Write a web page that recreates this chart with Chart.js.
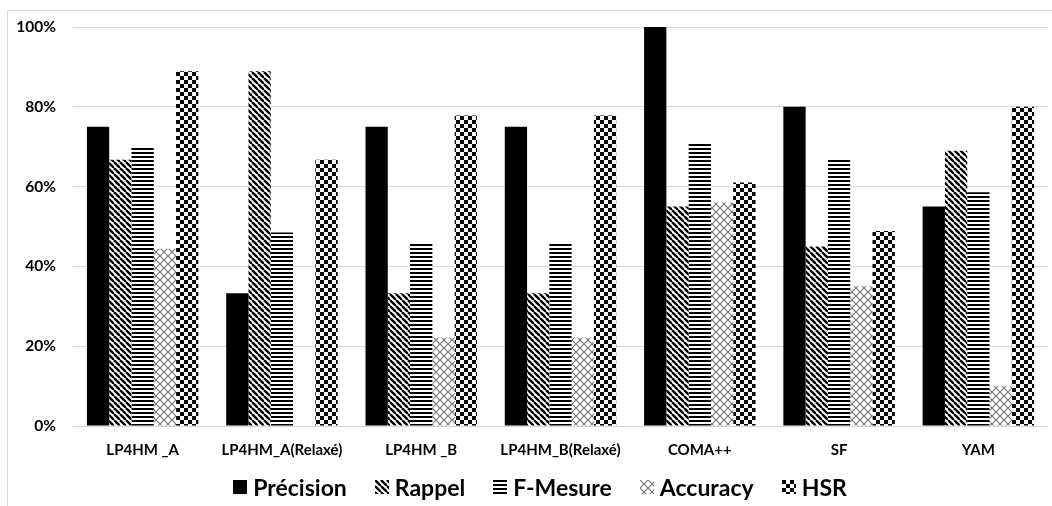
<!DOCTYPE html>
<html>
<head>
<meta charset="utf-8">
<script src="https://cdn.jsdelivr.net/npm/chart.js@4/dist/chart.umd.min.js"></script>
<style>
    html, body { margin: 0; padding: 0; background: #fff; }
    #wrap { position: relative; width: 1052px; height: 506px; overflow: hidden; }
    #legend {
        position: absolute; left: 0; top: 473px; width: 1080px;
        display: flex; justify-content: center; align-items: center;
        font-family: Lato, 'Open Sans', sans-serif; font-weight: bold; font-size: 23px; color: #000;
    }
    #legend .item { display: flex; align-items: center; margin: 0 14px; }
    #legend .box { width: 14px; height: 14px; margin-right: 6px; }
</style>
</head>
<body>
<div id="wrap">
    <canvas id="chart" width="1052" height="506"></canvas>
    <div id="legend"></div>
</div>
<script>
var categories = ['LP4HM _A', 'LP4HM_A(Relaxé)', 'LP4HM _B', 'LP4HM_B(Relaxé)', 'COMA++', 'SF', 'YAM'];
var seriesNames = ['Précision', 'Rappel', 'F-Mesure', 'Accuracy', 'HSR'];
var precision = [75, 33.3, 75, 75, 100, 80, 55];
var rappel = [66.7, 88.9, 33.3, 33.3, 55, 45, 69];
var fMesure = [70, 48.5, 45.7, 45.7, 71, 67, 58.6];
var accuracy = [44.4, 0, 22.2, 22.2, 56, 35, 10];
var hsr = [88.9, 66.7, 77.8, 77.8, 61, 48.9, 80];
var yTicks = [0, 20, 40, 60, 80, 100];

// petits motifs noir et blanc, comme dans Excel
function tile(size, draw) {
    var c = document.createElement('canvas');
    c.width = size;
    c.height = size;
    var g = c.getContext('2d');
    g.fillStyle = '#fff';
    g.fillRect(0, 0, size, size);
    draw(g, size);
    return c;
}

var tiles = [
    tile(4, function (g, s) { g.fillStyle = '#000'; g.fillRect(0, 0, s, s); }),
    tile(6, function (g, s) {
        g.strokeStyle = '#000';
        g.lineWidth = 2.4;
        for (var k = -1; k <= 1; k++) {
            g.beginPath();
            g.moveTo(k * s, 0);
            g.lineTo(k * s + s, s);
            g.stroke();
        }
    }),
    tile(4, function (g, s) { g.fillStyle = '#000'; g.fillRect(0, 0, s, 2); }),
    tile(8, function (g, s) {
        g.strokeStyle = '#7a7a7a';
        g.lineWidth = 1.2;
        g.beginPath();
        g.moveTo(0, 0); g.lineTo(s, s);
        g.moveTo(s, 0); g.lineTo(0, s);
        g.stroke();
    }),
    tile(8, function (g, s) {
        g.fillStyle = '#000';
        g.fillRect(0, 0, 4, 4);
        g.fillRect(4, 4, 4, 4);
    })
];

var ctx = document.getElementById('chart').getContext('2d');
var fills = tiles.map(function (t) { return ctx.createPattern(t, 'repeat'); });
var values = [precision, rappel, fMesure, accuracy, hsr];

var framePlugin = {
    id: 'frame',
    beforeDraw: function (chart) {
        var c = chart.ctx;
        c.save();
        c.strokeStyle = '#d9d9d9';
        c.lineWidth = 1;
        c.beginPath();
        c.moveTo(7.5, 506);
        c.lineTo(7.5, 10.5);
        c.lineTo(1052, 10.5);
        c.stroke();
        c.restore();
    }
};

new Chart(ctx, {
    type: 'bar',
    data: {
        labels: categories,
        datasets: seriesNames.map(function (name, i) {
            return {
                label: name,
                data: values[i],
                backgroundColor: fills[i],
                borderWidth: 0,
                categoryPercentage: 0.8,
                barPercentage: 1.0
            };
        })
    },
    options: {
        responsive: false,
        animation: false,
        layout: { padding: { left: 8, right: 4, top: 27, bottom: 40 } },
        plugins: {
            legend: { display: false },
            tooltip: { enabled: false }
        },
        scales: {
            x: {
                grid: { display: false, drawTicks: false },
                border: { display: false },
                ticks: {
                    color: '#000',
                    padding: 15,
                    maxRotation: 0,
                    autoSkip: false,
                    font: { family: 'Lato', weight: 'bold', size: 15 }
                },
                afterFit: function (scale) { scale.height = 40; }
            },
            y: {
                min: 0,
                max: 100,
                afterBuildTicks: function (scale) {
                    scale.ticks = yTicks.map(function (v) { return { value: v }; });
                },
                grid: { color: '#d9d9d9', lineWidth: 1, drawTicks: false },
                border: { display: false },
                ticks: {
                    color: '#000',
                    padding: 17,
                    font: { family: 'Lato', weight: 'bold', size: 15.5 },
                    callback: function (v) { return v + '%'; }
                },
                afterFit: function (scale) { scale.width = 65; }
            }
        }
    },
    plugins: [framePlugin]
});

// légende en HTML
var legend = document.getElementById('legend');
seriesNames.forEach(function (name, i) {
    var item = document.createElement('div');
    item.className = 'item';
    var box = document.createElement('span');
    box.className = 'box';
    box.style.backgroundImage = 'url(' + tiles[i].toDataURL() + ')';
    var txt = document.createElement('span');
    txt.textContent = name;
    item.appendChild(box);
    item.appendChild(txt);
    legend.appendChild(item);
});
</script>
</body>
</html>
